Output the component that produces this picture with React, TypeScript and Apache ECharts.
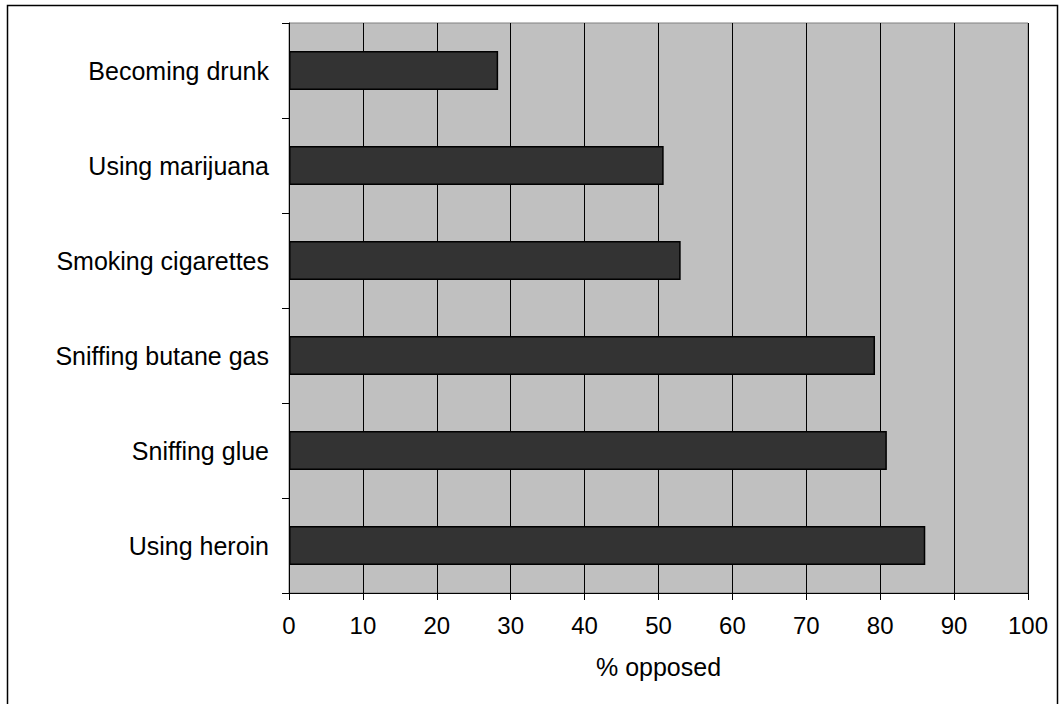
import React, { useEffect, useRef } from "react";
import * as echarts from "echarts";

const categories = [
  "Becoming drunk",
  "Using marijuana",
  "Smoking cigarettes",
  "Sniffing butane gas",
  "Sniffing glue",
  "Using heroin",
];
const opposedValues = [28.3, 50.7, 53.0, 79.3, 80.9, 86.1];
const xAxisName = "% opposed";

const FONT = "Arial, 'Liberation Sans', sans-serif";

export default function App() {
  const ref = useRef<HTMLDivElement>(null);
  useEffect(() => {
    if (!ref.current) return;
    const chart = echarts.init(ref.current, null, { renderer: "svg" });
    chart.setOption({
      animation: false,
      backgroundColor: "#ffffff",
      graphic: [
        {
          type: "rect",
          shape: { x: 7.5, y: 5.5, width: 1050, height: 720 },
          style: { fill: "none", stroke: "#000", lineWidth: 1.5 },
          silent: true,
          z: -1,
        },
      ],
      grid: {
        left: 289,
        right: 31,
        top: 23,
        bottom: 111,
        show: true,
        backgroundColor: "#c0c0c0",
        borderColor: "#808080",
        borderWidth: 1,
      },
      xAxis: {
        type: "value",
        min: 0,
        max: 100,
        interval: 10,
        name: xAxisName,
        nameLocation: "middle",
        nameGap: 61,
        nameTextStyle: { fontSize: 25, color: "#000", fontFamily: FONT },
        axisLine: { show: true, lineStyle: { color: "#000", width: 1 } },
        axisTick: { show: true, length: 7, lineStyle: { color: "#000" } },
        axisLabel: { fontSize: 24, color: "#000", fontFamily: FONT, margin: 20 },
        splitLine: { show: true, lineStyle: { color: "#000", width: 1 } },
      },
      yAxis: {
        type: "category",
        data: categories,
        inverse: true,
        axisLine: { show: true, lineStyle: { color: "#000", width: 1 } },
        axisTick: { show: true, length: 7, lineStyle: { color: "#000" } },
        axisLabel: { fontSize: 25, color: "#000", fontFamily: FONT, margin: 20 },
        splitLine: { show: false },
      },
      series: [
        {
          type: "bar",
          data: opposedValues,
          barWidth: 39,
          itemStyle: { color: "#333333", borderColor: "#000", borderWidth: 1.5 },
        },
      ],
    });
    return () => chart.dispose();
  }, []);
  return (
    <div
      ref={ref}
      style={{ position: "absolute", left: 0, top: 0, width: 1059, height: 704 }}
    />
  );
}
